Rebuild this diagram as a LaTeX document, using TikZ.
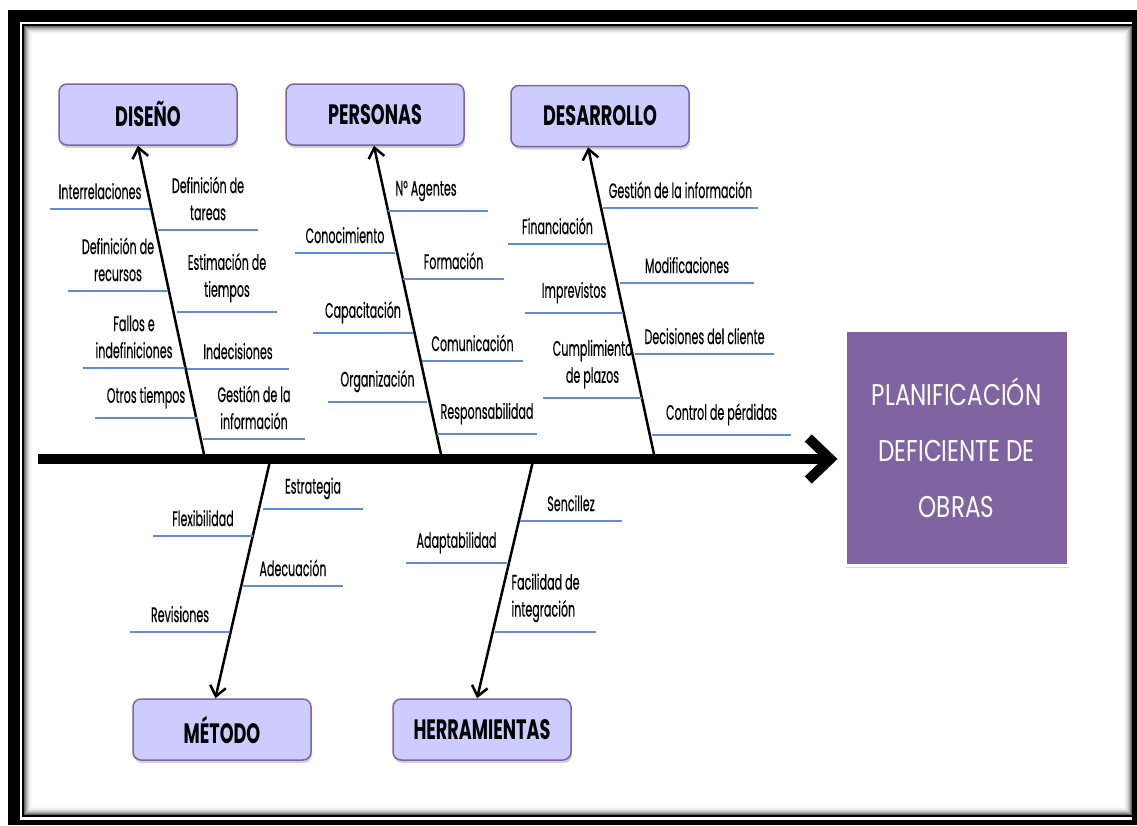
\documentclass[tikz,border=0pt]{standalone}
\usepackage{fontspec}
\setmainfont{Poppins}[FakeStretch=0.53,FakeBold=0.3]
\newfontfamily\catfont{Poppins}[FakeStretch=0.63]
\newfontfamily\effont{Poppins}[FakeStretch=0.77]
\usetikzlibrary{arrows.meta,shadows}

\definecolor{catfill}{RGB}{204,204,255}
\definecolor{catdraw}{RGB}{128,100,162}
\definecolor{effill}{RGB}{128,100,162}
\definecolor{causeblue}{RGB}{98,140,208}

\tikzset{
  cat/.style={draw=catdraw,fill=catfill,line width=1.5pt,rounded corners=8pt,
    minimum width=178pt,minimum height=61pt,
    font=\catfont\bfseries\fontsize{28}{30}\selectfont,
    drop shadow={shadow xshift=1pt,shadow yshift=-3pt,opacity=0.35}},
  bone/.style={line width=2.5pt,-{Straight Barb[length=10pt,width=16pt]}},
  spine/.style={line width=10pt,-{Straight Barb[length=22pt,width=42pt]}},
  cause/.style={draw=causeblue,line width=1.5pt},
  lbl/.style={font=\fontsize{21}{27}\selectfont,inner sep=1pt,align=center,above=8pt},
}

\begin{document}
\begin{tikzpicture}[x=1pt,y=-1pt]
  \useasboundingbox (0,0) rectangle (1137,825);
  % frame
  \fill[black] (8,10) rectangle (1137,825);
  \fill[white] (20,22) rectangle (1132,820);
  \draw[line width=2.5pt] (23,24.8) rectangle (1133,816);
  \foreach \i/\o in {0/0.6,1/0.45,2/0.33,3/0.23,4/0.15,5/0.09,6/0.05,7/0.02}
    \draw[black,opacity=\o,line width=1pt] (24.8+\i,26.5+\i) rectangle (1131.2-\i,814.2-\i);

  % categories
  \node[cat] (diseno) at (148,114.5) {DISEÑO};
  \node[cat] (personas) at (375,114.5) {PERSONAS};
  \node[cat] (desarrollo) at (600,116) {DESARROLLO};
  \node[cat] (metodo) at (222,729.5) {MÉTODO};
  \node[cat] (herram) at (482,729.5) {HERRAMIENTAS};

  % effect
  \node[draw=white,line width=3pt,fill=effill,minimum width=223pt,minimum height=235pt,
    text=white,align=center,font=\effont\fontsize{30}{56}\selectfont,
    drop shadow={shadow xshift=1pt,shadow yshift=-3pt,opacity=0.3}]
    (efecto) at (956.5,447.5) {PLANIFICACIÓN\\DEFICIENTE DE\\OBRAS};

  % spine and bones
  \coordinate (cola) at (38,459);
  \coordinate (bD) at (205,459);
  \coordinate (bP) at (442,459);
  \coordinate (bR) at (655,459);
  \coordinate (bM) at (270,461);
  \coordinate (bH) at (533,461);
  \draw[spine,shorten >=6pt] (cola) -- (cola -| efecto.west);
  \draw[bone] (bD) -- (diseno.-108);
  \draw[bone] (bP) -- (personas.-92);
  \draw[bone] (bR) -- (desarrollo.-111);
  \draw[bone] (bM) -- (metodo.102);
  \draw[bone] (bH) -- (herram.99);

  % causes: diseno
  \draw[cause] (50,209) -- (150,209) node[lbl,midway] (d1) {Interrelaciones};
  \draw[cause] (68,291) -- (168,291) node[lbl,midway] (d2) {Definición de\\recursos};
  \draw[cause] (83,368) -- (185,368) node[lbl,midway] (d3) {Fallos e\\indefiniciones};
  \draw[cause] (95,418) -- (197,418) node[lbl,midway] (d4) {Otros tiempos};
  \draw[cause] (158,230) -- (258,230) node[lbl,midway] (d5) {Definición de\\tareas};
  \draw[cause] (177,312) -- (277,312) node[lbl,midway] (d6) {Estimación de\\tiempos};
  \draw[cause] (187,369) -- (289,369) node[lbl,midway] (d7) {Indecisiones};
  \draw[cause] (203,439) -- (305,439) node[lbl,midway] (d8) {Gestión de la\\información};

  % causes: personas
  \draw[cause] (295,253) -- (395,253) node[lbl,midway] (p1) {Conocimiento};
  \draw[cause] (313,333) -- (413,333) node[lbl,midway] (p2) {Capacitación};
  \draw[cause] (328,402) -- (427,402) node[lbl,midway] (p3) {Organización};
  \draw[cause] (388,211) -- (488,211) node[lbl,midway,xshift=-12pt] (p4) {N° Agentes};
  \draw[cause] (403,279) -- (504,279) node[lbl,midway] (p5) {Formación};
  \draw[cause] (422,361) -- (523,361) node[lbl,midway] (p6) {Comunicación};
  \draw[cause] (437,434) -- (537,434) node[lbl,midway] (p7) {Responsabilidad};

  % causes: desarrollo
  \draw[cause] (508,244) -- (607,244) node[lbl,midway] (r1) {Financiación};
  \draw[cause] (525,313) -- (623,313) node[lbl,midway] (r2) {Imprevistos};
  \draw[cause] (543,398) -- (642,398) node[lbl,midway] (r3) {Cumplimiento\\de plazos};
  \draw[cause] (603,208) -- (758,208) node[lbl,midway] (r4) {Gestión de la información};
  \draw[cause] (620,283) -- (754,283) node[lbl,midway] (r5) {Modificaciones};
  \draw[cause] (635,354) -- (774,354) node[lbl,midway] (r6) {Decisiones del cliente};
  \draw[cause] (652,435) -- (791,435) node[lbl,midway] (r7) {Control de pérdidas};

  % causes: metodo
  \draw[cause] (153,536) -- (253,536) node[lbl,midway] (m1) {Flexibilidad};
  \draw[cause] (130,632) -- (230,632) node[lbl,midway] (m2) {Revisiones};
  \draw[cause] (263,509) -- (363,509) node[lbl,midway] (m3) {Estrategia};
  \draw[cause] (243,586) -- (343,586) node[lbl,midway] (m4) {Adecuación};

  % causes: herramientas
  \draw[cause] (406,563) -- (507,563) node[lbl,midway] (h1) {Adaptabilidad};
  \draw[cause] (520,521) -- (622,521) node[lbl,midway] (h2) {Sencillez};
  \draw[cause] (495,632) -- (596,632) node[lbl,midway,align=left] (h3) {Facilidad de\\integración};
\end{tikzpicture}
\end{document}
